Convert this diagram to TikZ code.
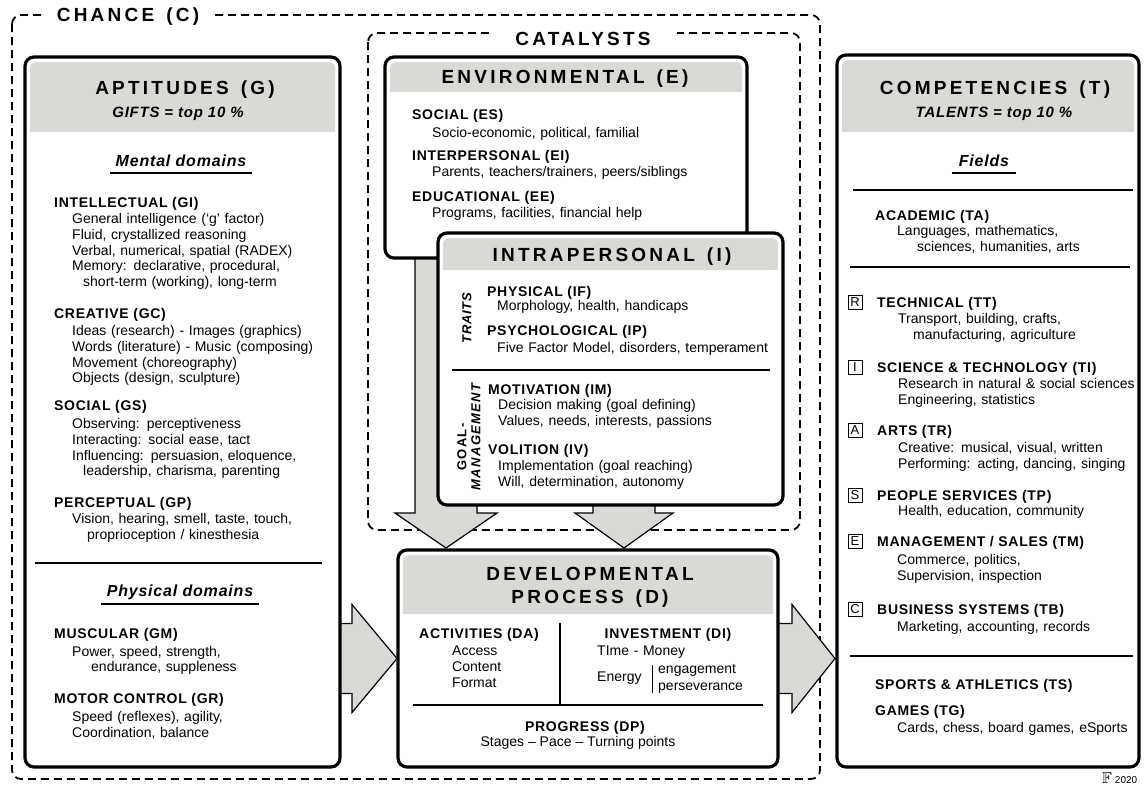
\documentclass[tikz,border=0pt]{standalone}
\usepackage{amssymb}
\usepackage{fontspec}
\setmainfont{Liberation Sans}
\newfontfamily\trackfont[LetterSpace=5]{Liberation Sans}
\newfontfamily\midfont[LetterSpace=10]{Liberation Sans}
\newfontfamily\widefont[LetterSpace=17]{Liberation Sans}
\usetikzlibrary{calc,backgrounds}
\definecolor{bandgray}{RGB}{217,218,213}
\tikzset{
  bigbox/.style={draw, line width=3.2pt, rounded corners=9pt, fill=white, outer sep=0pt},
  chancebox/.style={draw, line width=1.8pt, dash pattern=on 8pt off 5pt, rounded corners=9pt},
  frametitle/.style={anchor=base, fill=white, inner xsep=12pt, inner ysep=3pt, font=\widefont\bfseries\fontsize{19}{23}\selectfont},
  bigarrow/.style={draw, line width=1.2pt, fill=bandgray, line join=miter},
  title/.style={anchor=base, inner sep=0pt, text width=320pt, align=center, font=\widefont\bfseries\fontsize{19}{23}\selectfont},
  subtitle/.style={anchor=base, inner sep=0pt, font=\trackfont\bfseries\itshape\fontsize{15}{16}\selectfont},
  domainlbl/.style={anchor=base, inner sep=0pt, font=\trackfont\bfseries\itshape\fontsize{16}{18}\selectfont},
  hd/.style={anchor=base west, inner sep=0pt, font=\trackfont\bfseries\fontsize{14}{16}\selectfont},
  bd/.style={anchor=base west, inner sep=0pt, text width=300pt, align=left, font=\fontsize{14}{15.8}\selectfont},
  sep/.style={line width=1.5pt},
  letterbox/.style={draw, line width=0.8pt, minimum size=14pt, inner sep=0pt, font=\fontsize{13}{13}\selectfont},
  rotlbl/.style={rotate=90, inner sep=0pt, font=\trackfont\bfseries\itshape\fontsize{13}{15}\selectfont},
}
% grey title band at the top of a box
\newcommand\band[2]{%
  \fill[bandgray, rounded corners=6pt] ($(#1.north west)+(5,5)$) rectangle ($(#1.north east)+(-5,#2)$);
  \fill[bandgray] ($(#1.north west)+(5,20)$) rectangle ($(#1.north east)+(-5,#2)$);}
\newcommand\wsp{\hspace*{12pt}}

\begin{document}
\begin{tikzpicture}[x=1pt,y=-1pt]
\useasboundingbox (0,0) rectangle (1144,785);

% boxes
\node[bigbox, minimum width=315pt, minimum height=710pt] (apt) at (182.5,412) {};
\band{apt}{75}
\node[bigbox, minimum width=362pt, minimum height=201pt] (env) at (566,157.5) {};
\band{env}{35}
\node[bigbox, minimum width=345pt, minimum height=272pt] (intra) at (610.5,369) {};
\band{intra}{37}
\node[bigbox, minimum width=380pt, minimum height=217pt] (dev) at (588,658.5) {};
\band{dev}{64}
\node[bigbox, minimum width=302pt, minimum height=712pt] (comp) at (988,411) {};
\band{comp}{77}

\begin{pgfonlayer}{background}
\draw[chancebox] (12,15) rectangle (820,779);
\draw[chancebox] (368,33) rectangle (800,530);
\node[frametitle] (chance) at (128,21.5) {CHANCE\wsp(C)};
\node[frametitle, inner xsep=26pt] (catalysts) at (583,45) {CATALYSTS};
% block arrows
\draw[bigarrow, shift={(dev.north)}] (-173,-300) -- (-173,-37) -- (-193,-37) -- (-142,-2) -- (-91,-37) -- (-111,-37) -- (-111,-300) -- cycle;
\draw[bigarrow, shift={(dev.north)}] (5,-60) -- (5,-37) -- (-13,-37) -- (36,-2) -- (85,-37) -- (67,-37) -- (67,-60) -- cycle;
\draw[bigarrow, shift={(dev.west)}] (-70,-35) -- (-46,-35) -- (-46,-54) -- (-1,0) -- (-46,54) -- (-46,35) -- (-70,35) -- cycle;
\draw[bigarrow, shift={(dev.east)}] (-10,-35) -- (14,-35) -- (14,-54) -- (57,0) -- (14,54) -- (14,35) -- (-10,35) -- cycle;
\end{pgfonlayer}

% aptitudes
\node[title] (aptt) at (185,94.5) {APTITUDES\wsp(G)};
\node[subtitle] (gifts) at (178,117) {GIFTS = top 10 \%};
\node[domainlbl] (mental) at (181,166) {Mental domains};
\draw[sep] ($(mental.base west)+(-6,7)$) -- ($(mental.base east)+(6,7)$);
\node[hd] (gi) at (54,207) {INTELLECTUAL (GI)};
\node[bd] (gitxt) at (72,223.5) {General intelligence (‘g’ factor)\\Fluid, crystallized reasoning\\Verbal, numerical, spatial (RADEX)\\Memory: declarative, procedural,\\\hspace*{11pt}short-term (working), long-term};
\node[hd] (gc) at (54,318) {CREATIVE (GC)};
\node[bd] (gctxt) at (72,335.5) {Ideas (research) - Images (graphics)\\Words (literature) - Music (composing)\\Movement (choreography)\\Objects (design, sculpture)};
\node[hd] (gs) at (54,410) {SOCIAL (GS)};
\node[bd] (gstxt) at (72,428.5) {Observing: perceptiveness\\Interacting: social ease, tact\\Influencing: persuasion, eloquence,\\\hspace*{11pt}leadership, charisma, parenting};
\node[hd] (gp) at (54,507) {PERCEPTUAL (GP)};
\node[bd] (gptxt) at (72,523.5) {Vision, hearing, smell, taste, touch,\\\hspace*{15pt}proprioception / kinesthesia};
\draw[sep] (35,563) -- (322,563);
\node[domainlbl] (physical) at (180,596) {Physical domains};
\draw[sep] ($(physical.base west)+(-6,8)$) -- ($(physical.base east)+(6,8)$);
\node[hd] (gm) at (54,638) {MUSCULAR (GM)};
\node[bd] (gmtxt) at (72,656) {Power, speed, strength,\\\hspace*{19pt}endurance, suppleness};
\node[hd] (gr) at (54,703) {MOTOR CONTROL (GR)};
\node[bd] (grtxt) at (72,721.5) {Speed (reflexes), agility,\\Coordination, balance};

% environmental
\node[title] (envt) at (565,83.5) {ENVIRONMENTAL\wsp(E)};
\node[hd] (es) at (412,119) {SOCIAL (ES)};
\node[bd] (estxt) at (432,137.5) {Socio-economic, political, familial};
\node[hd] (ei) at (412,160) {INTERPERSONAL (EI)};
\node[bd] (eitxt) at (432,176.5) {Parents, teachers/trainers, peers/siblings};
\node[hd] (ee) at (412,201) {EDUCATIONAL (EE)};
\node[bd] (eetxt) at (432,217.5) {Programs, facilities, financial help};

% intrapersonal
\node[title] (intrat) at (612,261.5) {INTRAPERSONAL\wsp(I)};
\node[rotlbl] (traits) at (467,318) {TRAITS};
\node[hd] (if) at (487,296) {PHYSICAL (IF)};
\node[bd] (iftxt) at (497,310.5) {Morphology, health, handicaps};
\node[hd] (ip) at (487,335) {PSYCHOLOGICAL (IP)};
\node[bd] (iptxt) at (497,352.5) {Five Factor Model, disorders, temperament};
\draw[sep] (452,370) -- (770,370);
\node[rotlbl, font=\midfont\bfseries\fontsize{13}{15}\selectfont] (goal) at (462,447) {GOAL-};
\node[rotlbl, font=\midfont\bfseries\itshape\fontsize{13}{15}\selectfont] (mgmt) at (476,437) {MANAGEMENT};
\node[hd] (im) at (488,394) {MOTIVATION (IM)};
\node[bd] (imtxt) at (498,409.5) {Decision making (goal defining)\\Values, needs, interests, passions};
\node[hd] (iv) at (488,454) {VOLITION (IV)};
\node[bd] (ivtxt) at (498,470.5) {Implementation (goal reaching)\\Will, determination, autonomy};

% developmental process
\node[title] (devt) at (590,580.5) {DEVELOPMENTAL\\PROCESS\wsp(D)};
\node[hd, anchor=base] (da) at (479,638) {ACTIVITIES (DA)};
\node[bd] (datxt) at (452,655.5) {Access\\Content\\Format};
\node[hd, anchor=base] (di) at (668,638) {INVESTMENT (DI)};
\node[bd] (money) at (597,655.5) {TIme - Money};
\node[bd] (energy) at (597,681.5) {Energy};
\node[bd] (engage) at (658,673.5) {engagement\\[1pt]perseverance};
\draw[line width=1pt] (652,665) -- (652,693);
\draw[sep] (560,623) -- (560,704);
\draw[sep] (413,705) -- (763,705);
\node[hd, anchor=base] (dp) at (585,731) {PROGRESS (DP)};
\node[anchor=base, inner sep=0pt, font=\fontsize{14}{16}\selectfont] (stages) at (578,746.5) {Stages – Pace – Turning points};

% competencies
\node[title] (compt) at (995,94.5) {COMPETENCIES\wsp(T)};
\node[subtitle] (talents) at (994,117) {TALENTS = top 10 \%};
\node[domainlbl] (fields) at (984,166) {Fields};
\draw[sep] ($(fields.base west)+(-7,7)$) -- ($(fields.base east)+(7,7)$);
\draw[sep] (853,190) -- (1133,190);
\node[hd] (ta) at (875,220) {ACADEMIC (TA)};
\node[bd] (tatxt) at (897,235.5) {Languages, mathematics,\\\hspace*{20pt}sciences, humanities, arts};
\draw[sep] (850,267) -- (1130,267);
\node[letterbox] (rbox) at (855,302) {R};
\node[hd] (tt) at (877,307) {TECHNICAL (TT)};
\node[bd] (tttxt) at (898,323.5) {Transport, building, crafts,\\\hspace*{15pt}manufacturing, agriculture};
\node[letterbox] (ibox) at (855,367) {I};
\node[hd] (ti) at (877,372) {SCIENCE \& TECHNOLOGY (TI)};
\node[bd] (titxt) at (898,388.5) {Research in natural \& social sciences\\Engineering, statistics};
\node[letterbox] (abox) at (855,430) {A};
\node[hd] (tr) at (877,435) {ARTS (TR)};
\node[bd] (trtxt) at (898,452.5) {Creative: musical, visual, written\\Performing: acting, dancing, singing};
\node[letterbox] (sbox) at (855,495) {S};
\node[hd] (tp) at (877,500) {PEOPLE SERVICES (TP)};
\node[bd] (tptxt) at (898,515.5) {Health, education, community};
\node[letterbox] (ebox) at (855,541) {E};
\node[hd] (tm) at (877,546) {MANAGEMENT / SALES (TM)};
\node[bd] (tmtxt) at (897,564.5) {Commerce, politics,\\Supervision, inspection};
\node[letterbox] (cbox) at (855,609) {C};
\node[hd] (tb) at (877,614) {BUSINESS SYSTEMS (TB)};
\node[bd] (tbtxt) at (897,631.5) {Marketing, accounting, records};
\draw[sep] (850,656) -- (1133,656);
\node[hd] (ts) at (875,689) {SPORTS \& ATHLETICS (TS)};
\node[hd] (tg) at (875,715) {GAMES (TG)};
\node[bd] (tgtxt) at (897,732.5) {Cards, chess, board games, eSports};
\node[anchor=base west, inner sep=0pt, font=\fontsize{10}{10}\selectfont] (logo) at (1102,783) {{\fontsize{16}{16}\selectfont$\mathbb{F}$}\hspace{3pt}2020};
\end{tikzpicture}
\end{document}
